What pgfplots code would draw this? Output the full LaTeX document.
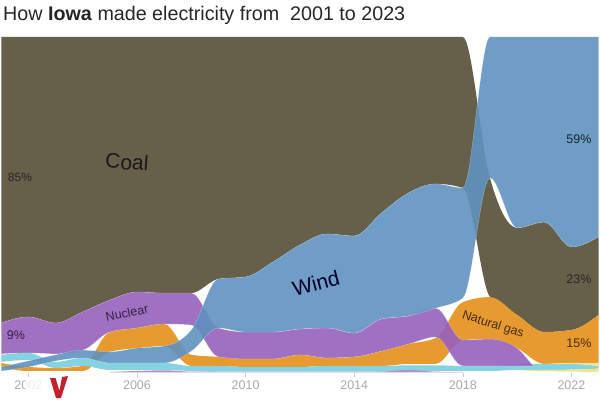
\documentclass[border=0pt]{standalone}
\usepackage{fontspec}
\setmainfont{Liberation Sans}
\usepackage{pgfplots}
\usepackage{pgfplotstable}
\pgfplotsset{compat=1.18}
\usepgfplotslibrary{fillbetween}

% monotone cubic through the yearly values, which is how the bands flow in the original
\makeatletter
\def\mono@point#1{\pgf@process{#1}%
  \edef\mono@px{\pgf@sys@tonumber\pgf@x}\edef\mono@py{\pgf@sys@tonumber\pgf@y}%
  \mono@step}
\def\mono@shift{\xdef\mono@xa{\mono@xb}\xdef\mono@ya{\mono@yb}%
  \xdef\mono@xb{\mono@px}\xdef\mono@yb{\mono@py}}
\def\mono@first{%
  \pgf@plot@first@action{\pgfqpoint{\mono@px pt}{\mono@py pt}}%
  \xdef\mono@xb{\mono@px}\xdef\mono@yb{\mono@py}%
  \global\let\mono@step\mono@second}
\def\mono@second{\mono@shift
  \gdef\mono@hast{0}%
  \global\let\mono@step\mono@third}
\def\mono@emit{%
  \pgfmathsetmacro\mono@h{((\mono@xb)-(\mono@xa))/3}%
  \pgfmathsetmacro\mono@cax{\mono@xa+\mono@h}%
  \pgfmathsetmacro\mono@cbx{\mono@xb-\mono@h}%
  \pgfmathsetmacro\mono@cay{\mono@ya+\mono@h*(\mono@ta)}%
  \pgfmathsetmacro\mono@cby{\mono@yb-\mono@h*(\mono@tb)}%
  \pgfpathcurveto{\pgfqpoint{\mono@cax pt}{\mono@cay pt}}%
    {\pgfqpoint{\mono@cbx pt}{\mono@cby pt}}{\pgfqpoint{\mono@xb pt}{\mono@yb pt}}}
\def\mono@third{%
  \pgfmathsetmacro\mono@sa{((\mono@yb)-(\mono@ya))/((\mono@xb)-(\mono@xa))}%
  \pgfmathsetmacro\mono@sb{((\mono@py)-(\mono@yb))/((\mono@px)-(\mono@xb))}%
  \pgfmathsetmacro\mono@tb{(\mono@sa)*(\mono@sb)>0 ?
    ((\mono@sa)>0 ? 2 : -2)*min(abs(\mono@sa),abs(\mono@sb),abs((\mono@sa)+(\mono@sb))/4) : 0}%
  \if0\mono@hast
    \pgfmathsetmacro\mono@ta{(3*(\mono@sa)-(\mono@tb))/2}%
  \else
    \let\mono@ta\mono@savedt
  \fi
  \mono@emit
  \xdef\mono@savedt{\mono@tb}\gdef\mono@hast{1}%
  \mono@shift}
\def\mono@end{%
  \ifx\mono@step\mono@third
    \pgfmathsetmacro\mono@sa{((\mono@yb)-(\mono@ya))/((\mono@xb)-(\mono@xa))}%
    \if0\mono@hast
      \edef\mono@ta{\mono@sa}\edef\mono@tb{\mono@sa}%
    \else
      \let\mono@ta\mono@savedt
      \pgfmathsetmacro\mono@tb{(3*(\mono@sa)-(\mono@ta))/2}%
    \fi
    \mono@emit
  \fi}
\pgfdeclareplothandler{\pgfplothandlermonox}{}{%
  start={\global\let\mono@step\mono@first},
  point macro=\mono@point,
  jump={\mono@end\global\let\mono@step\mono@first},
  end={\mono@end},
}
\tikzset{monox/.code={\let\tikz@plot@handler=\pgfplothandlermonox}}
\makeatother

\definecolor{coalc}{HTML}{665F4A}
\definecolor{windc}{HTML}{5F92C0}
\definecolor{nucc}{HTML}{9661BC}
\definecolor{gasc}{HTML}{E69A30}
\definecolor{hydroc}{HTML}{85D3E0}
\definecolor{solarc}{HTML}{F3E38A}
\definecolor{otherc}{HTML}{B58FC9}
\definecolor{tickc}{HTML}{A8A8A8}
\definecolor{scribble}{HTML}{C8202B}

\pgfplotstableread{
year lo hi
2001 14.9 100
2002 16.7 100
2003 14.9 100
2004 18.2 100
2005 21.7 100
2006 24.1 100
2007 23.8 100
2008 23.8 100
2009 28.0 100
2010 28.6 100
2011 33.0 100
2012 38.1 100
2013 41.4 100
2014 40.8 100
2015 47.6 100
2016 53.6 100
2017 56.3 100
2018 55.1 100
2019 22.6 58.0
2020 17.3 43.2
2021 12.2 44.9
2022 12.8 37.5
2023 17.3 40.5
}\coaldata

\pgfplotstableread{
year lo hi
2001 0.6 1.8
2002 1.8 3.6
2003 3.6 5.4
2004 4.5 6.8
2005 3.0 6.3
2006 3.0 7.4
2007 3.0 8.0
2008 6.5 12.8
2009 13.4 28.0
2010 12.2 28.6
2011 12.2 33.0
2012 13.1 38.1
2013 13.4 41.4
2014 11.9 40.8
2015 16.1 47.6
2016 17.0 53.6
2017 19.3 56.3
2018 22.3 55.1
2019 58.0 100
2020 43.2 100
2021 44.9 100
2022 37.5 100
2023 40.5 100
}\winddata

\pgfplotstableread{
year lo hi
2001 5.7 14.9
2002 6.0 16.7
2003 5.7 14.9
2004 6.8 18.2
2005 12.2 21.7
2006 13.4 24.1
2007 14.6 23.8
2008 14.3 23.8
2009 4.8 13.4
2010 4.2 12.2
2011 4.2 12.2
2012 5.4 13.1
2013 4.5 13.4
2014 4.8 11.9
2015 6.5 16.1
2016 8.6 17.0
2017 10.7 19.3
2018 2.1 9.8
2019 2.1 10.1
2020 2.1 7.4
2020.5 2.1 3.0
2020.6 2.1 2.1
}\nucdata

\pgfplotstableread{
year lo hi
2001 1.8 3.0
2002 0.6 1.8
2003 0.6 1.5
2004 0.6 2.1
2005 6.3 12.2
2006 7.4 13.4
2007 8.0 14.6
2008 2.1 5.4
2009 2.1 4.8
2010 1.8 4.2
2011 1.8 4.2
2012 1.8 5.4
2013 2.1 4.5
2014 2.1 4.8
2015 2.1 6.5
2016 2.7 8.6
2017 2.7 10.4
2018 9.8 21.1
2019 10.1 22.6
2020 7.4 17.3
2021 2.7 12.2
2022 3.0 12.8
2023 3.0 17.3
}\gasdata

\pgfplotstableread{
year lo hi
2001 3.3 5.4
2002 3.9 6.0
2003 1.5 3.3
2004 2.1 4.5
2005 0.9 3.0
2006 0.9 3.0
2007 0.9 3.0
2008 0.6 2.1
2009 0.4 2.1
2010 0.4 1.8
2011 0.4 1.8
2012 0.4 1.8
2013 0.4 2.1
2014 0.4 2.1
2015 0.4 2.1
2016 0.6 2.3
2017 0.6 2.3
2018 0.6 2.1
2019 0.6 2.1
2020 0.9 2.7
2021 0.9 2.7
2022 1.0 2.7
2023 1.3 2.1
}\hydrodata

\pgfplotstableread{
year lo hi
2021 2.7 2.7
2022 2.7 3.0
2023 2.1 3.0
}\solardata

\pgfplotstableread{
year lo hi
2020 0.9 0.9
2021 0.5 0.9
2022 0.4 1.0
2023 0.3 1.3
}\lowdata

\pgfplotstableread{
year lo hi
2005 0.2 0.3
2006 0.2 0.6
2007 0.2 0.8
2008 0.2 0.4
2014 0.2 0.3
2015 0.2 0.4
2016 0.2 0.9
2017 0.2 0.4
2018 0.2 0.3
}\otherdata

\newcommand{\band}[3]{%
  \addplot[name path=#2hi, draw=none, monox] table[x=year,y=hi] {#1};
  \addplot[name path=#2lo, draw=none, monox] table[x=year,y=lo] {#1};
  \addplot[#3] fill between[of=#2hi and #2lo];
}

\begin{document}
\begin{tikzpicture}[x=1pt,y=1pt]
\node[anchor=base west, inner sep=0pt, text=black!85] at (3,379)
  {\fontsize{19.7}{24}\selectfont How \textbf{Iowa} made electricity from\ \ 2001 to 2023};
\begin{axis}[
  at={(1.25pt,27pt)}, anchor=south west,
  scale only axis, width=597.3pt, height=336pt,
  xmin=2001, xmax=2023, ymin=0, ymax=100,
  axis y line=none, axis x line*=bottom,
  axis line style={draw=none},
  xtick={2002,2006,...,2022},
  x tick label style={/pgf/number format/1000 sep=, text=tickc, font=\fontsize{12.5}{14}\selectfont},
  /pgf/number format/assume math mode=true,
  tick align=outside, major tick length=4pt,
  xtick style={draw=tickc!60, line width=.5pt},
  xtick pos=bottom,
  no markers,
]
\band{\coaldata}{coal}{fill=coalc}
\band{\gasdata}{gas}{fill=gasc}
\band{\hydrodata}{hydro}{fill=hydroc}
\band{\solardata}{solar}{fill=solarc}
\band{\lowdata}{low}{fill=solarc}
\band{\otherdata}{other}{fill=otherc}
\band{\nucdata}{nuc}{fill=nucc, fill opacity=.9, draw=white, draw opacity=.35, line width=.4pt}
\band{\winddata}{wind}{fill=windc, fill opacity=.9, draw=white, draw opacity=.35, line width=.4pt}

\node[rotate=-4, text=black!90, font=\fontsize{21}{24}\selectfont] at (axis cs:2005.63,62.8) {Coal};
\node[rotate=15, text=black!85!blue, font=\fontsize{21}{24}\selectfont] at (axis cs:2012.59,26.8) {Wind};
\node[rotate=11, text=nucc!35!black, font=\fontsize{12.5}{14}\selectfont] at (axis cs:2005.63,17.9) {Nuclear};
\node[rotate=-18, text=gasc!30!black, font=\fontsize{12.5}{14}\selectfont] at (axis cs:2019.11,14.3) {Natural gas};
\node[text=black!85, font=\fontsize{12}{14}\selectfont] at (axis cs:2001.69,58.3) {85\%};
\node[text=nucc!35!black, font=\fontsize{12.5}{14}\selectfont] at (axis cs:2001.54,11.3) {9\%};
\node[text=windc!25!black, font=\fontsize{12.5}{14}\selectfont] at (axis cs:2022.28,69.6) {59\%};
\node[text=black!85, font=\fontsize{12.5}{14}\selectfont] at (axis cs:2022.28,28) {23\%};
\node[text=gasc!30!black, font=\fontsize{12.5}{14}\selectfont] at (axis cs:2022.28,8.9) {15\%};
\end{axis}
% the scribble over the first tick label
\fill[white, opacity=.8] (25,4) rectangle (46,20);
\fill[scribble] (50,22) -- (55.5,22) -- (59.5,9) -- (62,23) -- (68,24) -- (61,2) -- (56,2) -- cycle;
\pgfresetboundingbox
\useasboundingbox (0,0) rectangle (600,400);
\end{tikzpicture}
\end{document}
